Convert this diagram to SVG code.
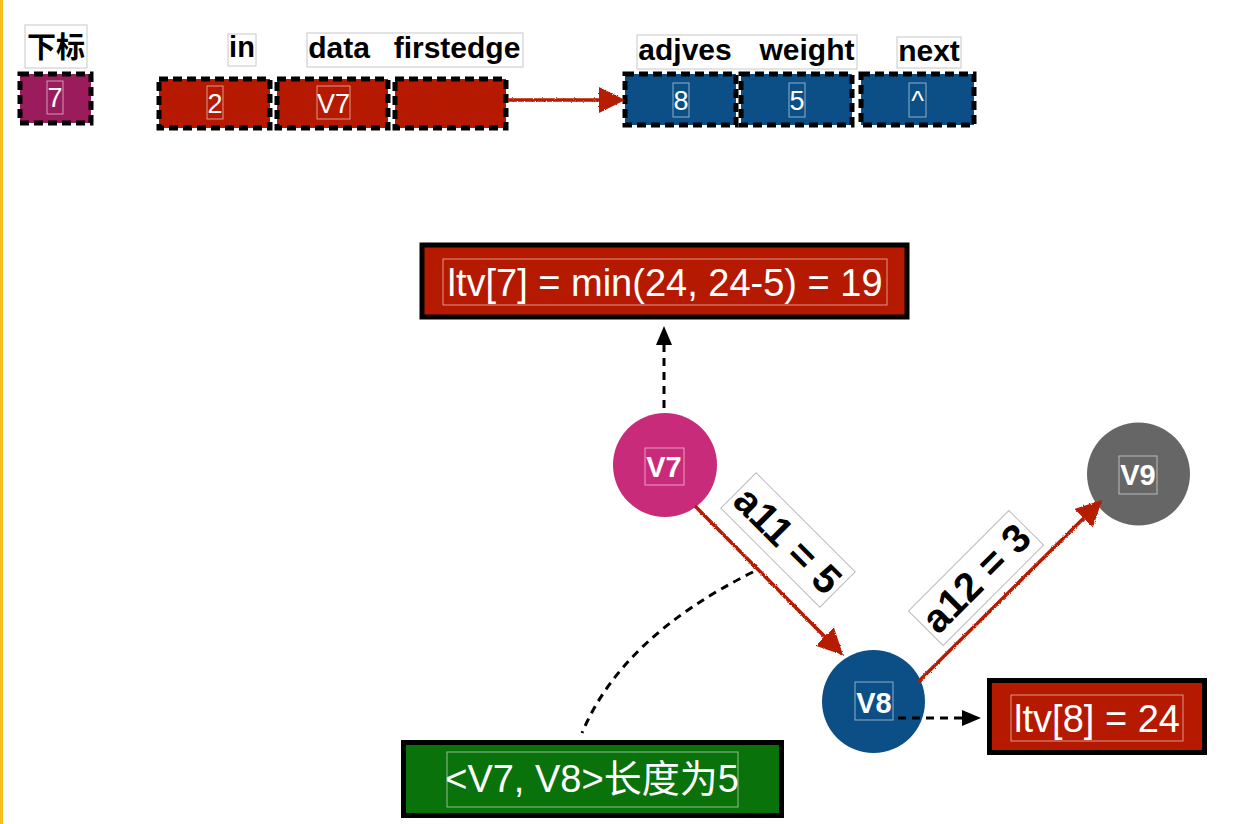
<svg xmlns="http://www.w3.org/2000/svg" width="1242" height="824" viewBox="0 0 1242 824">
<style>
.lbl{font-family:"Liberation Sans","Noto Sans CJK SC",sans-serif;font-weight:bold;fill:#000;text-anchor:middle}
.lblbox{fill:#fff;stroke:#c8c8c8;stroke-width:1}
.cell{stroke:#000;stroke-width:5;stroke-dasharray:9 5}
.cellt{font-family:"Liberation Sans",sans-serif;font-size:27px;fill:#fff;text-anchor:middle}
.tbox{fill:none;stroke:#fff;stroke-opacity:0.55;stroke-width:1}
.red{fill:#B51A00}
.blue{fill:#0B4F86}
.big{font-family:"Liberation Sans","Noto Sans CJK SC",sans-serif;font-size:38px;fill:#fff;text-anchor:middle}
.bigbox{stroke:#000;stroke-width:5}
.node{font-family:"Liberation Sans",sans-serif;font-size:29px;font-weight:bold;fill:#fff;text-anchor:middle}
.redline{fill:none;stroke:#B51A00;stroke-width:3.5}
.dash{fill:none;stroke:#000;stroke-width:3;stroke-dasharray:8 6}
.elbl{fill:#fff;stroke:#bbb;stroke-width:1}
.etxt{font-family:"Liberation Sans",sans-serif;font-size:40px;font-weight:bold;fill:#000;text-anchor:middle}
</style>
<defs>
<filter id="rough" filterUnits="userSpaceOnUse" x="0" y="0" width="1242" height="824">
<feTurbulence type="fractalNoise" baseFrequency="0.9" numOctaves="1" seed="4" result="n"/>
<feDisplacementMap in="SourceGraphic" in2="n" scale="3" xChannelSelector="R" yChannelSelector="G"/>
</filter>
<marker id="redHead" markerUnits="userSpaceOnUse" markerWidth="30" markerHeight="30" refX="16" refY="13" orient="auto">
<path d="M0,0 L26,13 L0,26 Z" fill="#B51A00"/>
</marker>
<marker id="blackHead" markerUnits="userSpaceOnUse" markerWidth="20" markerHeight="18" refX="0" refY="8" orient="auto">
<path d="M0,0 L19,8 L0,16 Z" fill="#000"/>
</marker>
</defs>
<rect x="0" y="0" width="1242" height="824" fill="#fff"/>
<rect x="0" y="0" width="3" height="824" fill="#F5C21B"/>

<g id="labels-top">
<rect class="lblbox" x="25" y="25" width="62" height="43"/>
<text class="lbl" x="56" y="58" font-size="29">下标</text>
<rect class="lblbox" x="228" y="34" width="28" height="32"/>
<text class="lbl" x="242" y="57" font-size="29">in</text>
<rect class="lblbox" x="307" y="33" width="216" height="34"/>
<text class="lbl" font-size="30" y="58"><tspan x="339">data</tspan><tspan x="457">firstedge</tspan></text>
<rect class="lblbox" x="637" y="35" width="220" height="34"/>
<text class="lbl" font-size="30" y="60"><tspan x="685">adjves</tspan><tspan x="807">weight</tspan></text>
<rect class="lblbox" x="897" y="37" width="64" height="31"/>
<text class="lbl" x="929" y="61" font-size="30">next</text>
</g>

<g id="cell-index">
<rect class="cell" x="20" y="74" width="71" height="49" fill="#9B1C5D"/>
<rect class="tbox" x="47" y="81" width="16" height="33"/>
<text class="cellt" x="55" y="107">7</text>
</g>
<g id="cell-in">
<rect class="cell red" x="159" y="79" width="111" height="49"/>
<rect class="tbox" x="207" y="86" width="16" height="33"/>
<text class="cellt" x="215" y="113">2</text>
</g>
<g id="cell-data">
<rect class="cell red" x="277" y="79" width="111" height="49"/>
<rect class="tbox" x="317" y="86" width="33" height="33"/>
<text class="cellt" x="333.5" y="113" font-size="25">V7</text>
</g>
<g id="cell-firstedge">
<rect class="cell red" x="395" y="79" width="111" height="49"/>
</g>
<g id="cell-adjves">
<rect class="cell blue" x="625" y="74" width="111" height="51"/>
<rect class="tbox" x="673" y="83" width="16" height="34"/>
<text class="cellt" x="681" y="110">8</text>
</g>
<g id="cell-weight">
<rect class="cell blue" x="741" y="74" width="111" height="51"/>
<rect class="tbox" x="789" y="83" width="16" height="34"/>
<text class="cellt" x="797" y="110">5</text>
</g>
<g id="cell-next">
<rect class="cell blue" x="861" y="74" width="113" height="51"/>
<rect class="tbox" x="909" y="83" width="17" height="34"/>
<text class="cellt" x="917.5" y="110">^</text>
</g>

<g id="ltv7">
<rect class="bigbox red" x="422" y="245" width="485" height="72"/>
<rect class="tbox" x="443" y="259" width="444" height="46"/>
<text class="big" x="665" y="296">ltv[7] = min(24, 24-5) = 19</text>
</g>
<g id="ltv8">
<rect class="bigbox red" x="989.5" y="680.5" width="215" height="72"/>
<rect class="tbox" x="1011" y="695" width="172" height="46"/>
<text class="big" x="1097" y="732">ltv[8] = 24</text>
</g>
<g id="note">
<rect class="bigbox" x="403.5" y="742.5" width="378" height="73" fill="#0A720A"/>
<rect class="tbox" x="447" y="752" width="291" height="55"/>
<text class="big" x="592" y="792">&lt;V7, V8&gt;长度为5</text>
</g>

<g id="v7">
<circle cx="665" cy="465" r="52" fill="#C92B7B"/>
<rect class="tbox" x="645" y="448" width="39" height="37"/>
<text class="node" x="664" y="477">V7</text>
</g>
<g id="v8">
<circle cx="873.5" cy="701.5" r="51.5" fill="#0B4F86"/>
<rect class="tbox" x="855" y="682" width="38" height="38"/>
<text class="node" x="874" y="713">V8</text>
</g>
<g id="v9">
<circle cx="1138.5" cy="474" r="51.5" fill="#666666"/>
<rect class="tbox" x="1119" y="456" width="38" height="38"/>
<text class="node" x="1138" y="485">V9</text>
</g>

<g id="connectors">
<path class="redline" filter="url(#rough)" d="M508,100 L615,100" marker-end="url(#redHead)"/>
<path class="redline" filter="url(#rough)" d="M695,506 L836,648" marker-end="url(#redHead)"/>
<path class="redline" filter="url(#rough)" d="M918,682 L1095,507" marker-end="url(#redHead)"/>
<path class="dash" d="M664,408 L664,345" marker-end="url(#blackHead)"/>
<path class="dash" d="M898,718 L962,718" marker-end="url(#blackHead)"/>
<path class="dash" d="M753,572 Q622,637 582,733"/>
</g>

<g id="edge-label-a11" transform="translate(788,540) rotate(45)">
<rect class="elbl" x="-70" y="-25" width="140" height="50"/>
<text class="etxt" x="0" y="14">a11 = 5</text>
</g>
<g id="edge-label-a12" transform="translate(976,578) rotate(-45)">
<rect class="elbl" x="-71" y="-24.5" width="142" height="49"/>
<text class="etxt" x="0" y="14">a12 = 3</text>
</g>
</svg>
